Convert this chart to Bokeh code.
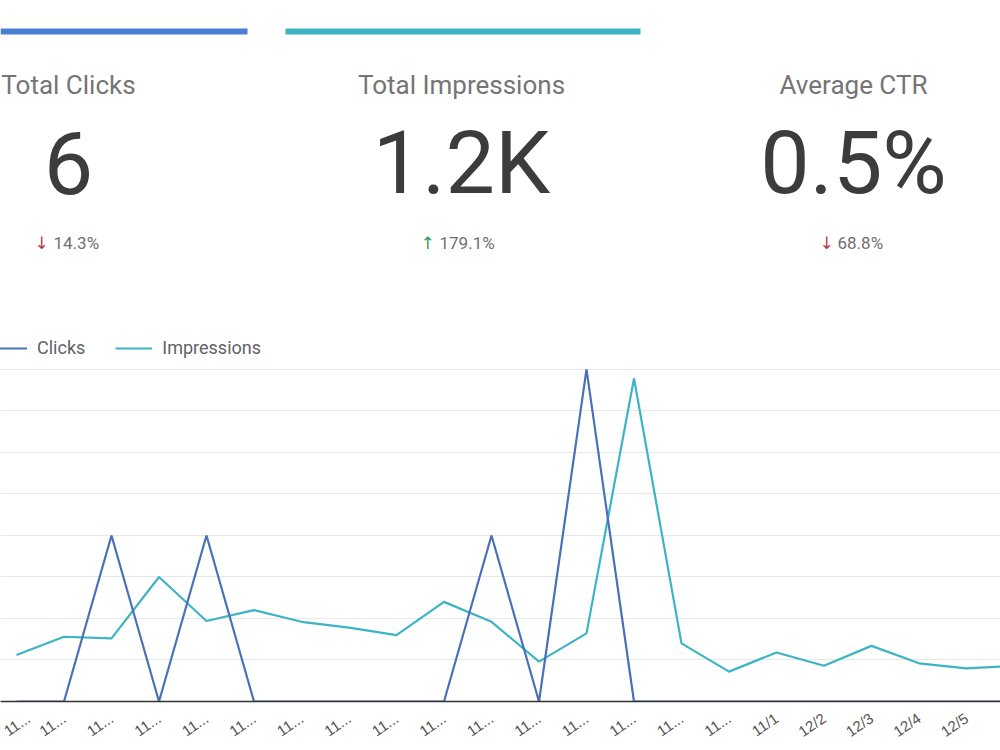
from bokeh.plotting import figure
from bokeh.models import Range1d, FixedTicker, Legend, LegendItem, ColumnDataSource
from bokeh.layouts import column
from bokeh.embed import file_html
from bokeh.resources import INLINE
from bokeh.core.properties import value

# ---------------- data ----------------
dates = ["11..."] * 16 + ["11/1", "12/2", "12/3", "12/4", "12/5", "12/6"]
clicks = [0, 0, 1, 0, 1, 0, 0, 0, 0, 0, 1, 0, 2, 0, 0, 0, 0, 0, 0, 0, 0, 0]
impressions = [56, 78, 76, 150, 97, 110, 96, 89, 80, 120, 96, 48, 82, 389,
               70, 36, 59, 43, 67, 46, 40, 43]

kpi_titles = ["Total Clicks", "Total Impressions", "Average CTR"]
kpi_values = ["6", "1.2K", "0.5%"]
kpi_changes = ["14.3%", "179.1%", "68.8%"]
kpi_arrows = ["\u2193", "\u2191", "\u2193"]
kpi_arrow_colors = ["#c0364a", "#2f9e62", "#c0364a"]

clicks_max = 2
imp_max = 400

# ---------------- scorecards ----------------
TOP_H = 330
top = figure(width=1000, height=TOP_H, x_range=Range1d(0, 1000), y_range=Range1d(TOP_H, 0),
             output_backend="svg", toolbar_location=None,
             min_border=0, outline_line_color=None)
top.axis.visible = False
top.grid.visible = False

centers = [68, 461, 853]
arrow_x = [34, 420, 819]
num_x = [53, 439, 837]

top.quad(left=[0, 285], right=[247, 640], top=[28, 28], bottom=[34, 34],
         color=["#4a7fd6", "#3cb4c4"], line_color=None)

src = ColumnDataSource(dict(cx=centers, title=kpi_titles, val=kpi_values,
                            ax=arrow_x, arr=kpi_arrows, acol=kpi_arrow_colors,
                            nx=num_x, chg=kpi_changes,
                            ty=[84] * 3, vy=[162] * 3, cy=[242] * 3))
top.text(x="cx", y="ty", text="title", source=src, text_align="center",
         text_baseline="alphabetic", text_font=value("Roboto"),
         text_font_size="26px", text_color="#757575")
top.text(x="cx", y="vy", text="val", source=src, text_align="center",
         text_baseline="alphabetic", text_font=value("Roboto"),
         text_font_size="88px", text_color="#3c3c3c")
top.text(x="ax", y="cy", text="arr", source=src, text_align="left",
         text_baseline="alphabetic", text_font=value("DejaVu Sans"),
         text_font_size="17px", text_color="acol")
top.text(x="nx", y="cy", text="chg", source=src, text_align="left",
         text_baseline="alphabetic", text_font=value("Roboto"),
         text_font_size="17px", text_color="#707070")

# ---------------- time series ----------------
CH_H = 420
frame_top_px = 330      # page px of frame top
base_px = 702           # page px of zero line
top_grid_px = 369       # page px of top gridline
frame_h = base_px - frame_top_px
scale_h = base_px - top_grid_px
y_top = clicks_max * frame_h / scale_h
imp_top = imp_max * frame_h / scale_h

x0_px, dx_px = 16, 47.5
idx = list(range(len(dates)))

p = figure(width=1000, height=CH_H,
           x_range=Range1d(-x0_px / dx_px, (1000 - x0_px) / dx_px),
           y_range=Range1d(0, y_top),
           output_backend="svg", toolbar_location=None,
           min_border_left=0, min_border_right=0, min_border_top=0,
           min_border_bottom=CH_H - frame_h,
           outline_line_color=None)
p.extra_y_ranges = {"imp": Range1d(0, imp_top)}

p.yaxis.visible = False
p.xgrid.visible = False
p.ygrid.ticker = FixedTicker(ticks=[clicks_max * k / 8 for k in range(1, 9)])
p.ygrid.grid_line_color = "#e8e8e8"
p.ygrid.grid_line_width = 1

p.xaxis.ticker = FixedTicker(ticks=idx)
p.xaxis.major_label_overrides = {i: d for i, d in zip(idx, dates)}
p.xaxis.major_label_orientation = 0.6
p.xaxis.axis_line_color = "#333333"
p.xaxis.axis_line_width = 1.5
p.xaxis.major_tick_line_color = None
p.xaxis.minor_tick_line_color = None
p.xaxis.major_label_standoff = 9
p.xaxis.major_label_text_font = "Liberation Sans"
p.xaxis.major_label_text_font_size = "15px"
p.xaxis.major_label_text_color = "#555555"

src2 = ColumnDataSource(dict(i=idx, clicks=clicks, imp=impressions))
r_imp = p.line("i", "imp", source=src2, y_range_name="imp",
               line_color="#3db4c4", line_width=2.2)
r_clk = p.line("i", "clicks", source=src2, line_color="#4a70b8", line_width=2.2)

legend = Legend(items=[LegendItem(label="Clicks", renderers=[r_clk]),
                       LegendItem(label="Impressions", renderers=[r_imp])],
                orientation="horizontal", location=(-10, frame_h - 29),
                border_line_color=None, background_fill_alpha=0,
                padding=0, margin=0, spacing=30, glyph_width=37, glyph_height=20,
                label_height=20, label_standoff=10,
                label_text_font="Roboto", label_text_font_size="18px",
                label_text_color="#5f6368")
p.add_layout(legend)

layout = column(top, p)
open("out.html", "w").write(file_html(layout, INLINE))
